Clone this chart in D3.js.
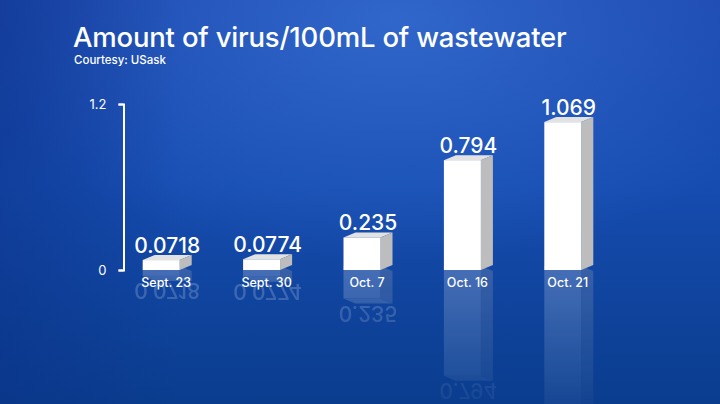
<!DOCTYPE html>
<html>
<head>
<meta charset="utf-8">
<script src="https://cdn.jsdelivr.net/npm/d3@7"></script>
<style>
  html, body { margin: 0; padding: 0; background: #0d3f95; }
  svg { display: block; }
  text { font-family: Inter, "Noto Sans", sans-serif; fill: #fff; }
</style>
</head>
<body>
<svg id="chart" width="720" height="404"></svg>
<script>
// data
const categories = ["Sept. 23", "Sept. 30", "Oct. 7", "Oct. 16", "Oct. 21"];
const values = [0.0718, 0.0774, 0.235, 0.794, 1.069];
const valueLabels = ["0.0718", "0.0774", "0.235", "0.794", "1.069"];
const yTicks = [0, 1.2];
const yTickLabels = ["0", "1.2"];

const W = 720, H = 404;
const svg = d3.select("#chart");
const defs = svg.append("defs");

// background
const bg = defs.append("linearGradient").attr("id", "bg")
  .attr("x1", 0).attr("y1", 0).attr("x2", 0).attr("y2", 1);
bg.append("stop").attr("offset", "0%").attr("stop-color", "#1b46ad");
bg.append("stop").attr("offset", "45%").attr("stop-color", "#164cb0");
bg.append("stop").attr("offset", "100%").attr("stop-color", "#0a3d8e");

const glow = defs.append("radialGradient").attr("id", "glow")
  .attr("cx", 0.55).attr("cy", 0.05).attr("r", 0.6);
glow.append("stop").attr("offset", "0%").attr("stop-color", "#3a74d6").attr("stop-opacity", 0.7);
glow.append("stop").attr("offset", "100%").attr("stop-color", "#3a74d6").attr("stop-opacity", 0);

const shade = defs.append("linearGradient").attr("id", "shade")
  .attr("x1", 0).attr("y1", 0).attr("x2", 1).attr("y2", 0);
shade.append("stop").attr("offset", "0%").attr("stop-color", "#0a2f85").attr("stop-opacity", 0.45);
shade.append("stop").attr("offset", "25%").attr("stop-color", "#0a2f85").attr("stop-opacity", 0);

svg.append("rect").attr("width", W).attr("height", H).attr("fill", "url(#bg)");
svg.append("rect").attr("width", W).attr("height", H).attr("fill", "url(#glow)");
svg.append("rect").attr("width", W).attr("height", H).attr("fill", "url(#shade)");

// scales
const y = d3.scaleLinear().domain([0, 1.2]).range([270, 104]);
const x = d3.scalePoint().domain(categories).range([111, 613]).padding(0.5);
const barW = 37, dx = 12, dy = -5;

const rows = categories.map((c, i) => ({ cat: c, v: values[i], label: valueLabels[i] }));

// reflection mask
const y0 = y(0);
const mirrorY = y0 - 2;
const fade = defs.append("linearGradient").attr("id", "fade")
  .attr("gradientUnits", "userSpaceOnUse")
  .attr("x1", 0).attr("y1", y0).attr("x2", 0).attr("y2", H);
fade.append("stop").attr("offset", "0%").attr("stop-color", "#fff").attr("stop-opacity", 0.22);
fade.append("stop").attr("offset", "100%").attr("stop-color", "#fff").attr("stop-opacity", 0.05);
defs.append("mask").attr("id", "reflMask")
  .attr("maskUnits", "userSpaceOnUse")
  .attr("x", 0).attr("y", 0).attr("width", W).attr("height", H)
  .append("rect").attr("x", 0).attr("y", y0 - 4).attr("width", W).attr("height", H)
  .attr("fill", "url(#fade)");

function drawBars(g, mirrored) {
  const bar = g.selectAll("g.bar").data(rows).join("g").attr("class", "bar");
  bar.append("polygon") // top face
    .attr("fill", "#e2e2e2")
    .attr("points", d => {
      const l = x(d.cat) - barW / 2, t = y(d.v);
      return [[l, t], [l + dx, t + dy], [l + barW + dx, t + dy], [l + barW, t]].join(" ");
    });
  bar.append("polygon") // side face
    .attr("fill", "#bdbdbd")
    .attr("points", d => {
      const r = x(d.cat) + barW / 2, t = y(d.v);
      return [[r, t], [r + dx, t + dy], [r + dx, y0 + dy], [r, y0]].join(" ");
    });
  bar.append("rect") // front face
    .attr("fill", "#fff")
    .attr("x", d => x(d.cat) - barW / 2)
    .attr("y", d => y(d.v))
    .attr("width", barW)
    .attr("height", d => y0 - y(d.v));
  // value labels (the mirrored ones only where they still land on the page)
  bar.filter(d => !mirrored || 2 * mirrorY - (y(d.v) - 24) < H)
    .append("text")
    .attr("x", d => x(d.cat) + dx / 2)
    .attr("y", d => y(d.v) - 7)
    .attr("text-anchor", "middle")
    .attr("font-size", 21)
    .attr("font-weight", 500)
    .text(d => d.label);
}

// mirrored copy underneath
const refl = svg.append("g").attr("mask", "url(#reflMask)")
  .append("g").attr("transform", `translate(0,${2 * mirrorY}) scale(1,-1)`);
drawBars(refl, true);
drawBars(svg.append("g"), false);

// category labels
svg.append("g").selectAll("text").data(categories).join("text")
  .attr("x", d => x(d) + 5)
  .attr("y", 287)
  .attr("text-anchor", "middle")
  .attr("font-size", 12.5)
  .attr("font-weight", 500)
  .text(d => d);

// y axis (bracket shape from the domain path)
const axis = svg.append("g")
  .attr("transform", "translate(123.5,0)")
  .call(d3.axisLeft(y).tickValues(yTicks).tickSize(5).tickPadding(12)
    .tickFormat((d, i) => yTickLabels[i]));
axis.selectAll("path, line").attr("stroke", "#fff").attr("stroke-width", 2);
axis.selectAll("text").attr("fill", "#fff").attr("font-size", 13)
  .attr("font-family", "Inter, 'Noto Sans', sans-serif");

// titles
svg.append("text").attr("x", 73).attr("y", 47)
  .attr("font-size", 27.5).attr("font-weight", 500)
  .attr("letter-spacing", -0.2)
  .text("Amount of virus/100mL of wastewater");
svg.append("text").attr("x", 74).attr("y", 64)
  .attr("font-size", 11.5).attr("font-weight", 500)
  .text("Courtesy: USask");
</script>
</body>
</html>
